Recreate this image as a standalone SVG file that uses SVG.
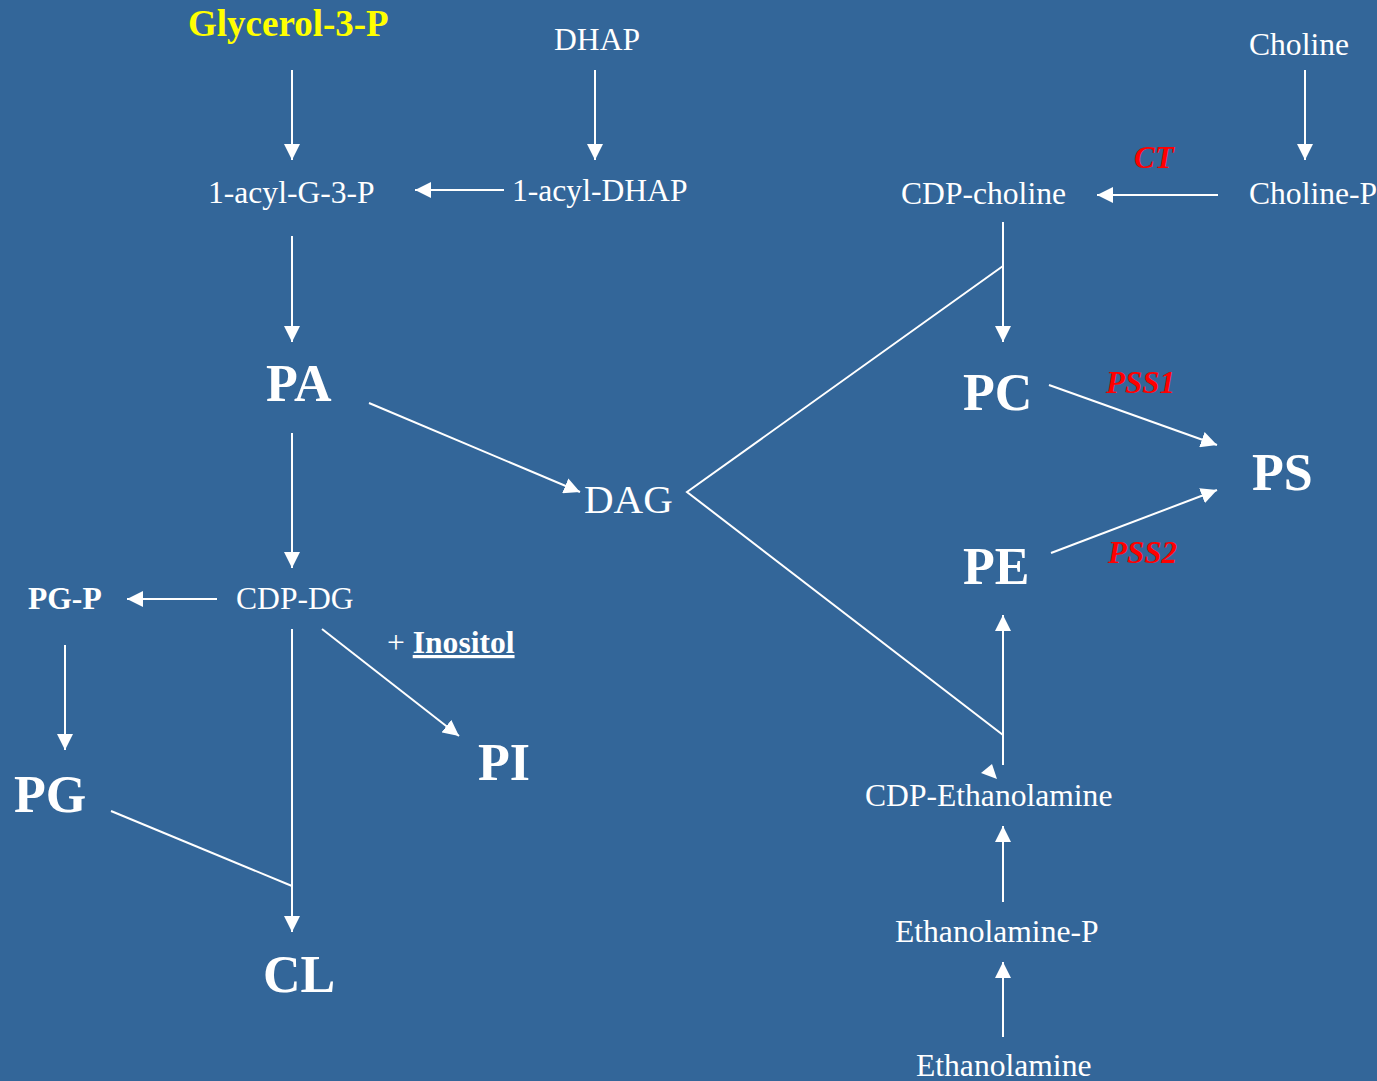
<svg xmlns="http://www.w3.org/2000/svg" width="1377" height="1081" viewBox="0 0 1377 1081">
<defs>
<style>
.t{font-family:"Liberation Serif","Times New Roman",serif;fill:#fff}
.r{font-size:31.6px}
.b{font-weight:bold}
.big{font-size:52px;font-weight:bold}
.enz{font-family:"Liberation Serif","Times New Roman",serif;fill:#ff0000;font-weight:bold;font-style:italic;font-size:31px}
.c line,.c polyline{stroke:#fff;stroke-width:2;fill:none}
</style>
<marker id="ah" viewBox="0 0 16 16" refX="16" refY="8" markerWidth="16" markerHeight="16" markerUnits="userSpaceOnUse" orient="auto">
<path d="M0,0 L16,8 L0,16 z" fill="#fff"/>
</marker>
</defs>
<rect width="1377" height="1081" fill="#336699"/>
<g class="c" id="connectors">
<line x1="292" y1="70" x2="292" y2="160" marker-end="url(#ah)"/>
<line x1="595" y1="70" x2="595" y2="160" marker-end="url(#ah)"/>
<line x1="504" y1="190" x2="415" y2="190" marker-end="url(#ah)"/>
<line x1="1305" y1="70" x2="1305" y2="160" marker-end="url(#ah)"/>
<line x1="1218" y1="195" x2="1097" y2="195" marker-end="url(#ah)"/>
<line x1="1003" y1="222" x2="1003" y2="342" marker-end="url(#ah)"/>
<polyline points="1003,266 687,492 1003,735"/>
<line x1="1003" y1="765" x2="1003" y2="615" marker-end="url(#ah)"/>
<polygon points="981,773 992,764 997,779" fill="#fff" stroke="none"/>
<line x1="292" y1="236" x2="292" y2="342" marker-end="url(#ah)"/>
<line x1="369" y1="403" x2="580" y2="492" marker-end="url(#ah)"/>
<line x1="292" y1="433" x2="292" y2="568" marker-end="url(#ah)"/>
<line x1="217" y1="599" x2="127" y2="599" marker-end="url(#ah)"/>
<line x1="65" y1="645" x2="65" y2="750" marker-end="url(#ah)"/>
<line x1="322" y1="629" x2="459" y2="736" marker-end="url(#ah)"/>
<line x1="292" y1="629" x2="292" y2="932" marker-end="url(#ah)"/>
<line x1="111" y1="811" x2="292" y2="886"/>
<line x1="1049" y1="385" x2="1217" y2="445" marker-end="url(#ah)"/>
<line x1="1051" y1="553" x2="1217" y2="490" marker-end="url(#ah)"/>
<line x1="1003" y1="1037" x2="1003" y2="962" marker-end="url(#ah)"/>
<line x1="1003" y1="902" x2="1003" y2="826" marker-end="url(#ah)"/>
</g>
<g id="n-glycerol3p"><text class="t b" x="188" y="36" font-size="37" style="fill:#ffff00">Glycerol-3-P</text></g>
<g id="n-dhap"><text class="t r" x="554" y="50">DHAP</text></g>
<g id="n-acylg3p"><text class="t r" x="208" y="203">1-acyl-G-3-P</text></g>
<g id="n-acyldhap"><text class="t r" x="512" y="201">1-acyl-DHAP</text></g>
<g id="n-choline"><text class="t r" x="1249" y="55">Choline</text></g>
<g id="n-cholinep"><text class="t r" x="1249" y="204">Choline-P</text></g>
<g id="n-cdpcholine"><text class="t r" x="901" y="204">CDP-choline</text></g>
<g id="l-ct"><text class="enz" x="1134" y="168">CT</text></g>
<g id="n-pa"><text class="t big" x="266" y="401">PA</text></g>
<g id="n-dag"><text class="t" x="584" y="513" font-size="41">DAG</text></g>
<g id="n-pc"><text class="t big" x="963" y="410">PC</text></g>
<g id="n-ps"><text class="t big" x="1252" y="490">PS</text></g>
<g id="n-pe"><text class="t big" x="963" y="584">PE</text></g>
<g id="l-pss1"><text class="enz" x="1106" y="393">PSS1</text></g>
<g id="l-pss2"><text class="enz" x="1108" y="563">PSS2</text></g>
<g id="n-cdpdg"><text class="t r" x="236" y="609">CDP-DG</text></g>
<g id="n-pgp"><text class="t r b" x="28" y="609">PG-P</text></g>
<g id="l-inositol"><text class="t r" x="387" y="653">+ <tspan font-weight="bold" text-decoration="underline">Inositol</tspan></text></g>
<g id="n-pi"><text class="t big" x="478" y="780">PI</text></g>
<g id="n-pg"><text class="t big" x="14" y="812">PG</text></g>
<g id="n-cl"><text class="t big" x="263" y="992">CL</text></g>
<g id="n-cdpeth"><text class="t r" x="865" y="806">CDP-Ethanolamine</text></g>
<g id="n-ethp"><text class="t r" x="895" y="942">Ethanolamine-P</text></g>
<g id="n-eth"><text class="t r" x="916" y="1076">Ethanolamine</text></g>
</svg>
